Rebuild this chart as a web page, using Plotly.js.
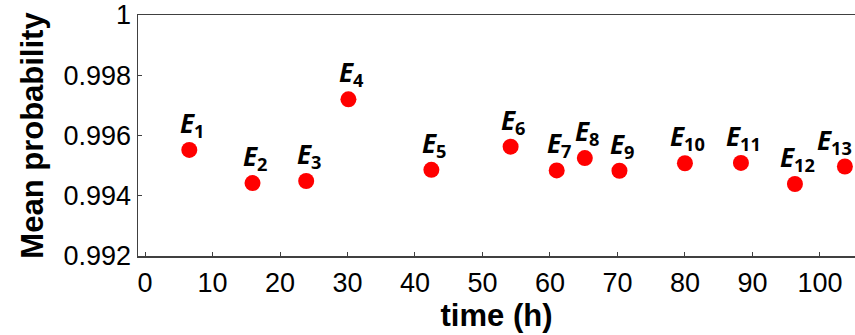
<!DOCTYPE html>
<html>
<head>
<meta charset="utf-8">
<script src="https://cdn.plot.ly/plotly-3.0.1.min.js"></script>
<style>html,body{margin:0;padding:0;background:#fff;}#chart{width:855px;height:335px;}</style>
</head>
<body>
<div id="chart"></div>
<script>
var eventNames = ["1","2","3","4","5","6","7","8","9","10","11","12","13"];
var timeHours = [6.56, 15.93, 23.88, 30.14, 42.43, 54.17, 61.0, 65.17, 70.3, 80.0, 88.3, 96.3, 103.7];
var meanProb = [0.99552, 0.99442, 0.99449, 0.99720, 0.99486, 0.99563, 0.99484, 0.99525, 0.99483, 0.99508, 0.99509, 0.99439, 0.99497];
var xTicks = [0,10,20,30,40,50,60,70,80,90,100];
var yTicks = [0.992,0.994,0.996,0.998,1];
var yTickText = ["0.992","0.994","0.996","0.998","1"];

var trace = {
  x: timeHours, y: meanProb, type: 'scatter', mode: 'markers',
  marker: {color: '#ff0000', size: 16, line: {width: 0}},
  hoverinfo: 'none'
};

var annotations = eventNames.map(function(n, i){
  var last = i === eventNames.length - 1;
  return {
    x: timeHours[i], y: meanProb[i], xref: 'x', yref: 'y',
    text: '<b><i>E</i><sub>' + n + '</sub></b>',
    showarrow: false,
    xanchor: 'center', yanchor: 'middle',
    xshift: last ? -10 : 3, yshift: 26,
    font: {family: 'Open Sans, sans-serif', size: 26, color: '#000'}
  };
});

var AX = 'Liberation Sans, Arial, sans-serif';
var layout = {
  width: 855, height: 335,
  margin: {l: 138, r: 0, t: 15, b: 79, pad: 0},
  paper_bgcolor: '#fff', plot_bgcolor: '#fff',
  showlegend: false,
  font: {family: AX, color: '#000'},
  xaxis: {
    range: [-1.04, 105.2], tickvals: xTicks, ticks: 'inside', ticklen: 4, tickcolor: '#404040',
    showline: true, linecolor: '#404040', linewidth: 1.5, mirror: true,
    showgrid: false, zeroline: false, ticklabelstandoff: 2,
    tickfont: {size: 27, family: AX, color: '#000'},
    title: {text: '<b>time (h)</b>', font: {size: 31, family: AX, color: '#000'}, standoff: 7}
  },
  yaxis: {
    range: [0.992, 1.0], tickvals: yTicks, ticktext: yTickText, ticks: 'inside', ticklen: 4, tickcolor: '#404040',
    showline: true, linecolor: '#404040', linewidth: 1.5, mirror: false,
    showgrid: false, zeroline: false,
    tickfont: {size: 27, family: AX, color: '#000'},
    title: {text: '<b>Mean probability</b>', font: {size: 31, family: AX, color: '#000'}, standoff: 10}
  },
  annotations: annotations
};

Plotly.newPlot('chart', [trace], layout, {staticPlot: true, displayModeBar: false});
</script>
</body>
</html>
